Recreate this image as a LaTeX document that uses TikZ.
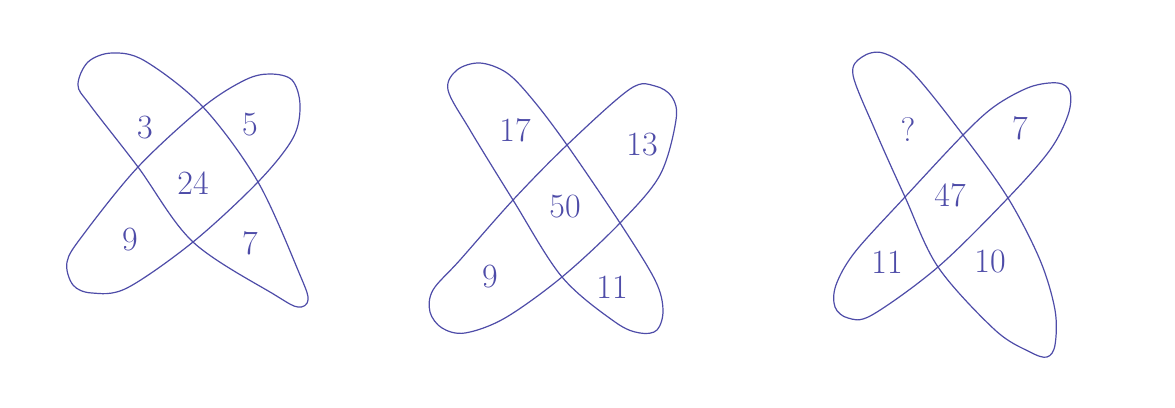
\documentclass[tikz,border=0pt]{standalone}
\usepackage{tikz}
\definecolor{ink}{RGB}{78,76,168}
\tikzset{
  lobe/.style={draw=ink, line width=1.2pt, line join=round},
  num/.style={text=ink, font=\fontsize{34}{36}\selectfont, inner sep=0pt}
}

\begin{document}
\begin{tikzpicture}[x=1pt,y=-1pt]
\useasboundingbox[fill=white] (0,0) rectangle (1175,407);

% first cross
\draw[lobe] plot[smooth cycle, tension=0.55] coordinates {(78,85) (88,62) (112,53) (145,61) (203,107) (258,182) (300,275) (308,300) (298,307) (275,295) (193,242) (138,167) (90,105)};
\draw[lobe] plot[smooth cycle, tension=0.55] coordinates {(67,262) (73,285) (92,293) (127,288) (193,242) (258,182) (293,138) (300,105) (292,80) (270,74) (245,80) (203,107) (138,167) (83,235)};
\node[num] (a1) at (145,128) {3}; \node[num] (a2) at (250,125) {5};
\node[num] (a0) at (193,183) {24};
\node[num] (a3) at (130,240) {9}; \node[num] (a4) at (250,243) {7};

% second cross
\draw[lobe] plot[smooth cycle, tension=0.55] coordinates {(448,90) (457,70) (480,63) (507,73) (533,100) (567,145) (620,223) (655,280) (663,310) (657,330) (640,333) (615,322) (562,277) (513,200) (470,130)};
\draw[lobe] plot[smooth cycle, tension=0.55] coordinates {(433,290) (430,312) (442,328) (465,333) (505,318) (562,277) (620,223) (660,175) (676,120) (672,97) (655,86) (630,89) (567,145) (513,200) (460,260)};
\node[num] (b1) at (515,130) {17}; \node[num] (b2) at (642,145) {13};
\node[num] (b0) at (565,207) {50};
\node[num] (b3) at (490,277) {9}; \node[num] (b4) at (612,287) {11};

% third cross
\draw[lobe] plot[smooth cycle, tension=0.55] coordinates {(853,75) (862,57) (883,53) (913,73) (963,135) (1008,198) (1040,260) (1055,310) (1055,345) (1047,357) (1030,352) (995,330) (938,267) (905,197) (875,130)};
\draw[lobe] plot[smooth cycle, tension=0.55] coordinates {(836,285) (835,307) (848,318) (872,315) (938,267) (1008,198) (1050,150) (1068,115) (1070,92) (1058,83) (1030,87) (995,106) (963,135) (905,197) (855,252)};
\node[num] (c1) at (908,130) {?}; \node[num] (c2) at (1020,128) {7};
\node[num] (c0) at (950,195) {47};
\node[num] (c3) at (887,262) {11}; \node[num] (c4) at (990,262) {10};

\end{tikzpicture}
\end{document}
